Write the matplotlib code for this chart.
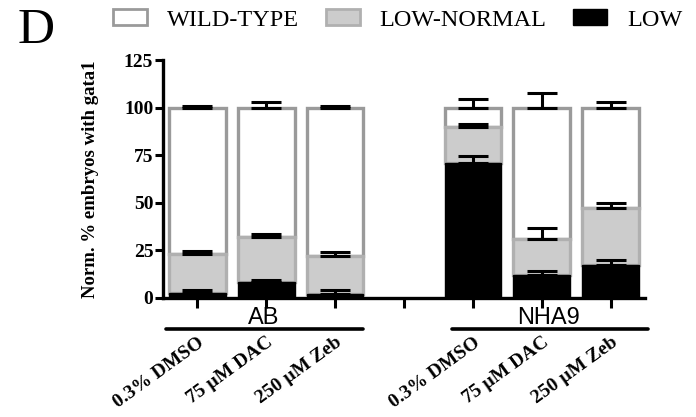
import matplotlib
matplotlib.use("Agg")
import matplotlib.pyplot as plt
from matplotlib.patches import Patch
import numpy as np

# Treatments per fish line (slot 3 is an empty spacer between the groups)
treatments = ["0.3% DMSO", "75 µM DAC", "250 µM Zeb", "",
              "0.3% DMSO", "75 µM DAC", "250 µM Zeb"]
groups = ["AB", "NHA9"]

# Cumulative tops of each stacked class (% embryos), NaN for the spacer
low_top = [2.6, 8.4, 2.2, np.nan, 71.1, 12.2, 17.1]
lownorm_top = [23.2, 31.8, 21.8, np.nan, 90.0, 31.1, 47.2]
wild_top = [100.0, 100.0, 100.0, np.nan, 100.0, 100.0, 100.0]

# Upper error (SEM) of each class
low_err = [1.7, 1.2, 2.0, np.nan, 3.5, 1.8, 2.6]
lownorm_err = [1.4, 1.7, 2.3, np.nan, 1.4, 5.4, 2.6]
wild_err = [1.0, 2.7, 0.8, np.nan, 4.4, 7.8, 2.7]

SERIF = ["Liberation Serif", "DejaVu Serif"]
SANS = ["Liberation Sans", "DejaVu Sans"]
EDGE = "#9a9a9a"
GREY = "#cccccc"

plt.rcParams["font.family"] = SERIF

fig = plt.figure(figsize=(6.96, 4.17), dpi=100)
ax = fig.add_axes([0.2342, 0.2854, 0.6925, 0.5707])

x = np.arange(len(treatments))
low = np.array(low_top)
ln = np.array(lownorm_top)
wt = np.array(wild_top)
w = 0.82

ax.bar(x, wt - ln, bottom=ln, width=w, color="white", edgecolor=EDGE,
       linewidth=2.4, zorder=2)
ax.bar(x, ln - low, bottom=low, width=w, color=GREY, edgecolor="#b0b0b0",
       linewidth=2.4, zorder=2)
ax.bar(x, low, width=w, color="black", edgecolor="black", linewidth=1,
       zorder=3)

for tops, errs in [(wt, wild_err), (ln, lownorm_err), (low, low_err)]:
    errs = np.array(errs)
    ax.errorbar(x, tops, yerr=[np.zeros_like(errs), errs], fmt="none",
                ecolor="black", elinewidth=2.2, capsize=11, capthick=2.2,
                zorder=4)

ax.set_xlim(-0.5, 6.5)
ax.set_ylim(0, 125)
ax.set_yticks([0, 25, 50, 75, 100, 125])
for side in ["top", "right"]:
    ax.spines[side].set_visible(False)
for side in ["left", "bottom"]:
    ax.spines[side].set_linewidth(2.4)

ax.tick_params(axis="y", length=6, width=2.2, pad=1, labelsize=14)
for lab in ax.get_yticklabels():
    lab.set_fontweight("bold")

ax.set_xticks(x)
ax.set_xticklabels(treatments, rotation=36, ha="right", va="top",
                   rotation_mode="anchor", fontsize=14, fontweight="bold")
ax.tick_params(axis="x", length=7, width=2.2, pad=19)

ax.set_ylabel("Norm. % embryos with gata1", fontsize=13.5, fontweight="bold")
ax.yaxis.set_label_coords(-0.132, 0.5)

# group bars and names under the axis
trans = ax.get_xaxis_transform()
spans = [(-0.45, 2.4), (3.7, 6.55)]
for name, (a, b) in zip(groups, spans):
    ax.plot([a, b], [-0.13, -0.13], color="black", lw=2.6,
            transform=trans, clip_on=False, solid_capstyle="round")
    ax.text((a + b) / 2 - 0.02, -0.082, name, transform=trans, ha="center",
            va="center", fontsize=17, family=SANS)

handles = [Patch(facecolor="white", edgecolor=EDGE, linewidth=2),
           Patch(facecolor=GREY, edgecolor="#b0b0b0", linewidth=2),
           Patch(facecolor="black", edgecolor="black")]
fig.legend(handles, ["WILD-TYPE", "LOW-NORMAL", "LOW"], ncol=3,
           loc="center left", bbox_to_anchor=(0.162, 0.952),
           frameon=False, fontsize=17.5, borderpad=0, borderaxespad=0,
           handlelength=1.4, handleheight=0.62, handletextpad=0.82,
           columnspacing=1.1)

fig.text(0.025, 0.926, "D", fontsize=37, va="center", ha="left")

fig.savefig("out.png", dpi=100)
plt.close(fig)
